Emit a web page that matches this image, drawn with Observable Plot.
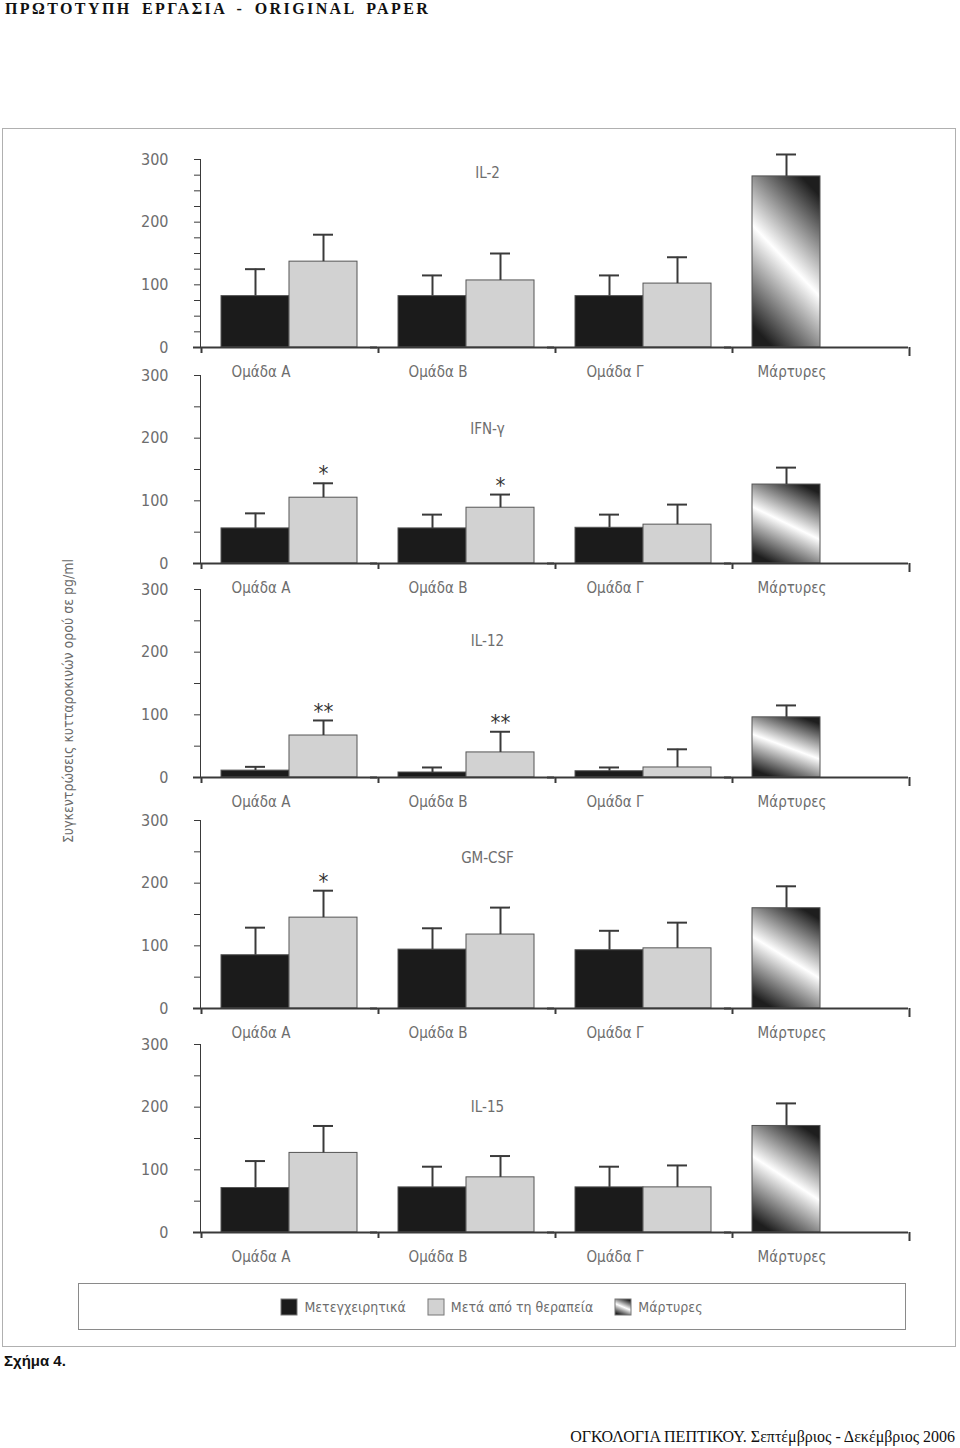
<!DOCTYPE html>
<html><head><meta charset="utf-8">
<script src="https://cdn.jsdelivr.net/npm/d3@7"></script>
<script src="https://cdn.jsdelivr.net/npm/@observablehq/plot@0.6"></script>
<style>
body{margin:0;background:#fff;}
#page{position:relative;width:960px;height:1448px;overflow:hidden;background:#fff;}
.abs{position:absolute;}
.cond{font-family:'Liberation Sans Narrow','DejaVu Sans Condensed','Roboto Condensed','Arial Narrow',sans-serif;}
#header{left:5px;top:0px;font-family:'Liberation Serif','DejaVu Serif',serif;font-weight:bold;font-size:16px;letter-spacing:2.4px;word-spacing:4px;color:#111;white-space:nowrap;}
#footer{right:5px;top:1428px;font-family:'Liberation Serif','DejaVu Serif',serif;font-size:16px;color:#111;white-space:nowrap;}
#fig{left:4px;top:1352px;font-family:'Liberation Sans',Arial,sans-serif;font-weight:bold;font-size:15px;color:#111;}
#frame{left:2px;top:128px;width:952px;height:1217px;border:1px solid #b0b0b0;}
#ytitle{left:68px;top:701px;transform:translate(-50%,-50%) rotate(-90deg);font-size:14px;color:#6a6a6a;white-space:nowrap;}
#legendbox{left:78px;top:1283px;width:826px;height:45px;border:1px solid #8a8a8a;display:flex;align-items:center;justify-content:center;}
.lg-swatch{margin-right:22px !important;}
.lg-swatch:last-child{margin-right:0 !important;}
.lg-swatch > svg{margin-right:7px !important;}
.lg-swatch svg rect{stroke:#777;stroke-width:1;}
svg.panel g[aria-label="y-axis tick label"], svg.panel g[aria-label="y-axis"] text{fill:#6d6d6d;}
</style></head><body>
<svg width="0" height="0" style="position:absolute">
  <defs>
    <linearGradient id="ctrlGrad" x1="0.72" y1="0" x2="0.3" y2="1">
      <stop offset="0" stop-color="#1e1e1e"/>
      <stop offset="0.5" stop-color="#ffffff"/>
      <stop offset="1" stop-color="#1e1e1e"/>
    </linearGradient>
  </defs>
</svg>
<div id="page"></div>
<script>
// ---- data ----
const groups = ["Ομάδα Α", "Ομάδα Β", "Ομάδα Γ", "Μάρτυρες"];
const series = ["Μετεγχειρητικά", "Μετά από τη θεραπεία", "Μάρτυρες"];
const cytokines = ["IL-2", "IFN-γ", "IL-12", "GM-CSF", "IL-15"];
// rows: cytokine; columns: Ομάδα Α, Ομάδα Β, Ομάδα Γ
const preMean  = [[82, 82, 82], [56, 56, 57], [11, 8, 10], [85, 94, 93], [71, 72, 72]];
const preSD    = [[43, 33, 33], [24, 22, 21], [6, 8, 6],   [44, 34, 31], [43, 33, 33]];
const postMean = [[137, 107, 102], [105, 89, 62], [67, 40, 16], [145, 118, 96], [127, 88, 72]];
const postSD   = [[43, 43, 42], [23, 21, 32], [24, 33, 29], [43, 43, 41], [43, 34, 35]];
const controlMean = [273, 126, 96, 160, 170];
const controlSD   = [35, 27, 19, 35, 36];
const postSig = [["", "", ""], ["*", "*", ""], ["**", "**", ""], ["*", "", ""], ["", "", ""]];
const yTickLabels = [0, 100, 200, 300];
const seriesColors = ["#1b1b1b", "#d2d2d2", "url(#ctrlGrad)"];

// ---- layout (page pixels) ----
const zeroY = [347, 563, 777, 1008, 1232];
const titleDy = [14, 54, 52, 38, 63];
const minorStep = [25, 50, 50, 50, 50];
const plotH = 188, mTop = 16, mBottom = 40;
const FONT = "'Liberation Sans Narrow','DejaVu Sans Condensed','Roboto Condensed','Arial Narrow',sans-serif";
const AX = "#3a3a3a", TXT = "#6d6d6d";

const page = document.getElementById("page");
function addDiv(id, cls, text) {
  const d = document.createElement("div");
  d.id = id; d.className = "abs " + (cls || ""); d.textContent = text || "";
  page.appendChild(d); return d;
}
addDiv("frame");
addDiv("header", "", "ΠΡΩΤΟΤΥΠΗ ΕΡΓΑΣΙΑ - ORIGINAL PAPER");
addDiv("ytitle", "cond", "Συγκεντρώσεις κυτταροκινών ορού σε pg/ml");
addDiv("fig", "", "Σχήμα 4.");
addDiv("footer", "", "ΟΓΚΟΛΟΓΙΑ ΠΕΠΤΙΚΟΥ. Σεπτέμβριος - Δεκέμβριος 2006");

cytokines.forEach((cyt, i) => {
  const rows = [];
  groups.slice(0, 3).forEach((g, j) => {
    rows.push({group: g, series: series[0], mean: preMean[i][j], sd: preSD[i][j], sig: ""});
    rows.push({group: g, series: series[1], mean: postMean[i][j], sd: postSD[i][j], sig: postSig[i][j]});
  });
  rows.push({group: groups[3], series: series[2], mean: controlMean[i], sd: controlSD[i], sig: ""});
  const slot = d => d.series === series[2] ? series[0] : d.series;
  const top = d => d.mean + d.sd;

  const chart = Plot.plot({
    width: 960,
    height: mTop + plotH + mBottom,
    marginLeft: 200, marginRight: 52, marginTop: mTop, marginBottom: mBottom,
    className: "panel",
    style: {background: "none", fontFamily: FONT, fontSize: "16px", color: AX, overflow: "visible"},
    fx: {domain: groups, paddingInner: 0, paddingOuter: 0, axis: null},
    x: {domain: series.slice(0, 2), paddingInner: 0, paddingOuter: 0.29, axis: null},
    y: {domain: [0, 300], ticks: d3.range(0, 301, minorStep[i]),
        tickFormat: d => yTickLabels.includes(d) ? String(d) : "",
        tickSize: 6, tickPadding: 26, line: true, label: null},
    color: {domain: series, range: seriesColors},
    marks: [
      Plot.barY(rows, {fx: "group", x: slot, y: "mean", fill: "series", stroke: "#555", strokeWidth: 1}),
      Plot.ruleX(rows, {fx: "group", x: slot, y1: "mean", y2: top, stroke: AX, strokeWidth: 2}),
      Plot.tickY(rows, {fx: "group", x: slot, y: top, stroke: AX, strokeWidth: 2, insetLeft: 24, insetRight: 24}),
      Plot.text(rows.filter(d => d.sig), {fx: "group", x: slot, y: top, text: "sig", dy: -9, fontSize: 22, fill: "#333", lineAnchor: "middle"}),
      Plot.ruleY([0], {stroke: AX, strokeWidth: 2, insetLeft: -7}),
      Plot.ruleX(groups, {fx: d => d, x: () => series[0], y1: 0, y2: 0, insetBottom: -6, dx: -54, stroke: AX, strokeWidth: 2}),
      Plot.ruleX([groups[3]], {fx: d => d, x: () => series[1], y1: 0, y2: 0, insetBottom: -9, dx: 55, stroke: AX, strokeWidth: 2}),
      Plot.text(groups, {fx: d => d, text: d => d, frameAnchor: "bottom", dy: 25, dx: -28, lineAnchor: "middle", fontSize: 15, fill: TXT}),
      Plot.text([cyt], {fx: () => groups[1], x: () => series[1], text: d => d, frameAnchor: "top", dy: titleDy[i], dx: -13, lineAnchor: "middle", fontSize: 15, fill: TXT})
    ]
  });
  chart.style.position = "absolute";
  chart.style.left = "0px";
  chart.style.top = (zeroY[i] - plotH - mTop) + "px";
  page.appendChild(chart);
});

const lb = addDiv("legendbox", "cond");
const legend = Plot.legend({
  color: {domain: series, range: seriesColors},
  legend: "swatches", swatchSize: 16, className: "lg",
  style: {fontFamily: FONT, fontSize: "14px", color: TXT, margin: "0", minHeight: "0"}
});
lb.appendChild(legend);
</script>
</body></html>
